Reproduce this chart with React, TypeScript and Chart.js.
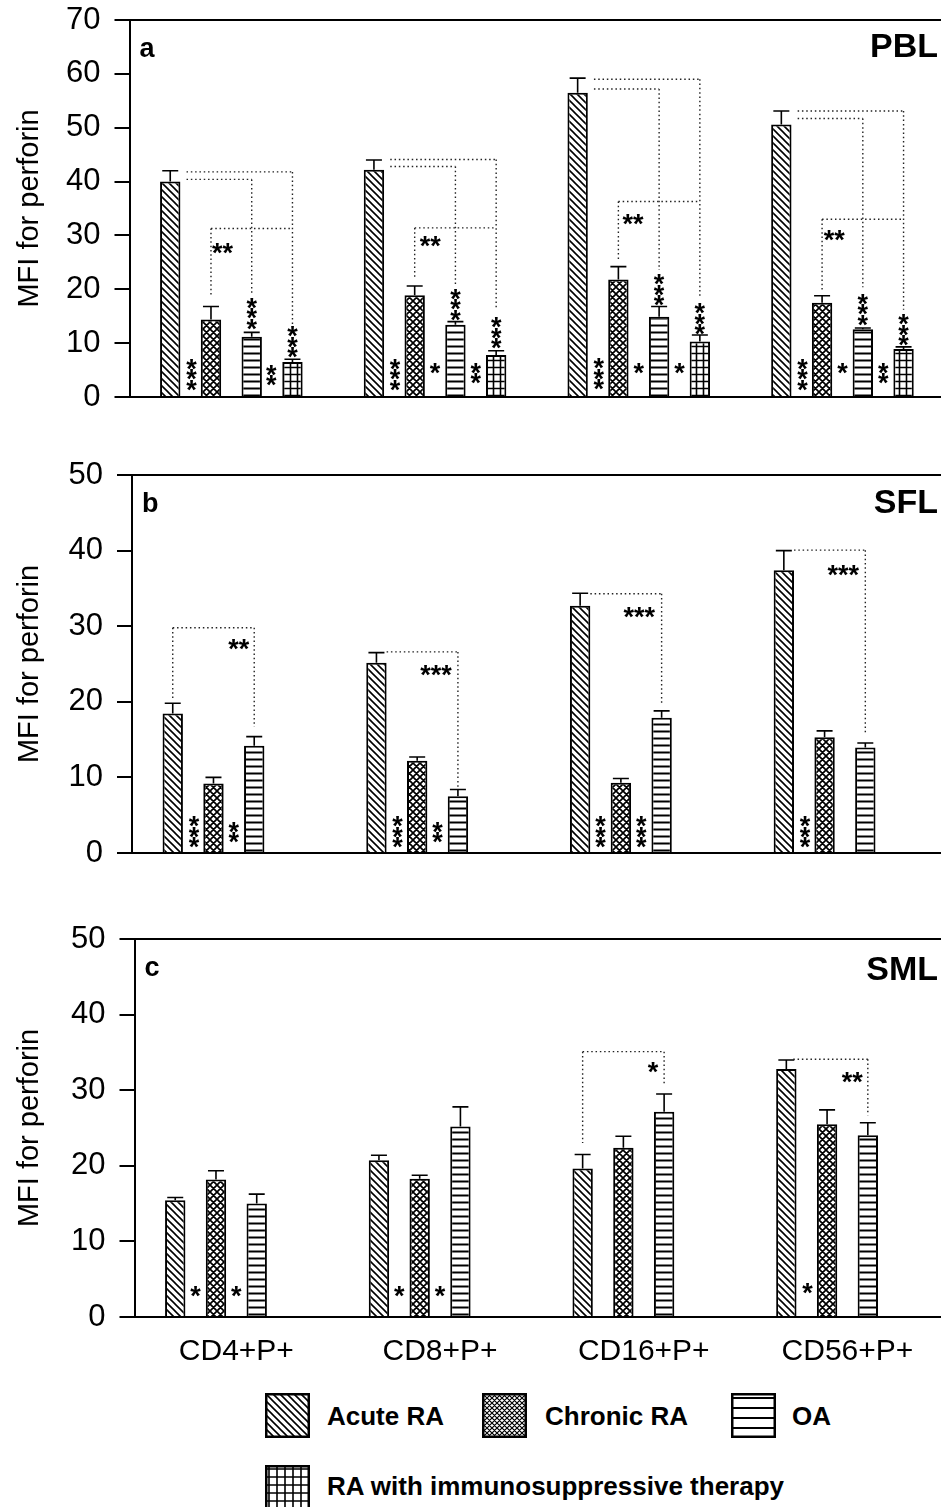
import React, { useEffect, useRef } from 'react';
import { Chart, registerables } from 'chart.js';
Chart.register(...registerables);

const FONT = '"Liberation Sans", Arial, Helvetica, sans-serif';

const categories = ['CD4+P+', 'CD8+P+', 'CD16+P+', 'CD56+P+'];
const seriesNames = ['Acute RA', 'Chronic RA', 'OA', 'RA with immunosuppressive therapy'];
const yTitle = 'MFI for perforin';

// Panel a: PBL (means and SEM)
const pblAcute = [40.0, 42.2, 56.5, 50.6];
const pblAcuteSem = [2.0, 1.8, 2.7, 2.5];
const pblChronic = [14.4, 18.9, 21.8, 17.5];
const pblChronicSem = [2.4, 1.7, 2.4, 1.3];
const pblOA = [11.2, 13.4, 14.9, 12.6];
const pblOASem = [0.8, 0.6, 1.9, 0.2];
const pblImmuno = [6.5, 7.8, 10.3, 8.9];
const pblImmunoSem = [0.5, 0.8, 1.2, 0.4];

// Panel b: SFL
const sflAcute = [18.45, 25.15, 32.7, 37.4];
const sflAcuteSem = [1.35, 1.35, 1.65, 2.6];
const sflChronic = [9.2, 12.2, 9.3, 15.3];
const sflChronicSem = [0.8, 0.5, 0.55, 0.85];
const sflOA = [14.2, 7.5, 17.9, 13.95];
const sflOASem = [1.2, 0.9, 0.9, 0.6];

// Panel c: SML
const smlAcute = [15.45, 20.75, 19.65, 32.8];
const smlAcuteSem = [0.35, 0.65, 1.85, 1.2];
const smlChronic = [18.2, 18.3, 22.4, 25.5];
const smlChronicSem = [1.15, 0.45, 1.5, 1.9];
const smlOA = [15.0, 25.2, 27.15, 24.05];
const smlOASem = [1.25, 2.6, 2.35, 1.65];

const noData = [null, null, null, null];

// significance brackets: [category, level, fromSlot, toSlot, dropFrom, dropTo]
const pblBrackets = [
  [0, 41.8, 0.4, 3, null, 13.5], [0, 40.4, 0.4, 2, null, 19.0], [0, 31.3, 1, 3, 18.6, null],
  [1, 44.1, 0.4, 3, null, 16.2], [1, 42.8, 0.4, 2, null, 20.8], [1, 31.4, 1, 3, 22.1, null],
  [2, 59.0, 0.4, 3, null, 18.4], [2, 57.2, 0.4, 2, null, 23.6], [2, 36.3, 1, 3, 25.4, null],
  [3, 53.1, 0.4, 3, null, 16.2], [3, 51.7, 0.4, 2, null, 20.4], [3, 33.0, 1, 3, 19.9, null],
];
const sflBrackets = [
  [0, 29.8, 0, 2, 20.5, 16.7], [1, 26.6, 0.25, 2, null, 8.55],
  [2, 34.3, 0.25, 2, null, 19.55], [3, 40.06, 0.25, 2, null, 15.85],
];
const smlBrackets = [
  [2, 35.1, 0, 2, 23.0, 30.9], [3, 34.1, 0.17, 2, null, 26.7],
];

// significance stars: [category, slot, level, text, vertical]
const pblStars = [
  [0, 0.52, 4.55, '***', 1], [0, 2.48, 4.36, '**', 1], [0, 2, 15.8, '***', 1], [0, 3, 10.5, '***', 1], [0, 1.28, 28.0, '**', 0],
  [1, 0.52, 4.55, '***', 1], [1, 1.5, 5.6, '*', 1], [1, 2.5, 4.7, '**', 1], [1, 2, 17.5, '***', 1], [1, 3, 12.25, '***', 1], [1, 1.38, 29.3, '**', 0],
  [2, 0.52, 4.6, '***', 1], [2, 1.5, 5.75, '*', 1], [2, 2.5, 5.75, '*', 1], [2, 2, 20.2, '***', 1], [2, 3, 14.85, '***', 1], [2, 1.36, 33.4, '**', 0],
  [3, 0.52, 4.55, '***', 1], [3, 1.5, 5.75, '*', 1], [3, 2.5, 4.7, '**', 1], [3, 2, 16.6, '***', 1], [3, 3, 12.8, '***', 1], [3, 1.3, 30.3, '**', 0],
];
const sflStars = [
  [0, 0.52, 3.0, '***', 1], [0, 1.5, 3.0, '**', 1], [0, 1.62, 27.8, '**', 0],
  [1, 0.52, 3.0, '***', 1], [1, 1.5, 3.0, '**', 1], [1, 1.46, 24.4, '***', 0],
  [2, 0.5, 3.0, '***', 1], [2, 1.5, 3.0, '***', 1], [2, 1.45, 32.1, '***', 0],
  [3, 0.52, 3.0, '***', 1], [3, 1.46, 37.65, '***', 0],
];
const smlStars = [
  [0, 0.5, 3.6, '*', 1], [0, 1.5, 3.6, '*', 1],
  [1, 0.5, 3.6, '*', 1], [1, 1.5, 3.6, '*', 1],
  [2, 1.73, 33.25, '*', 0],
  [3, 0.52, 4.0, '*', 1], [3, 1.62, 31.9, '**', 0],
];

const patternKinds = ['diag', 'cross', 'hline', 'grid'];

function makeTile(kind: string, s: number, lw: number) {
  const c = document.createElement('canvas');
  c.width = s;
  c.height = s;
  const g = c.getContext('2d')!;
  g.fillStyle = '#fff';
  g.fillRect(0, 0, s, s);
  g.strokeStyle = '#000';
  g.lineWidth = lw;
  g.beginPath();
  if (kind === 'diag' || kind === 'cross') {
    for (const k of [-s, 0, s]) {
      g.moveTo(-1, k - 1);
      g.lineTo(s + 1, s + k + 1);
    }
  }
  if (kind === 'cross') {
    for (const k of [0, s, 2 * s]) {
      g.moveTo(-1, k + 1);
      g.lineTo(s + 1, k - s - 1);
    }
  }
  if (kind === 'hline' || kind === 'grid') {
    g.moveTo(0, s / 2);
    g.lineTo(s, s / 2);
  }
  if (kind === 'grid') {
    g.moveTo(s / 2, 0);
    g.lineTo(s / 2, s);
  }
  g.stroke();
  return c;
}

function makePattern(kind: string, s: number, lw: number) {
  const t = makeTile(kind, s, lw);
  return t.getContext('2d')!.createPattern(t, 'repeat');
}

const barTiles: any = { diag: [7, 1.6], cross: [7, 1.7], hline: [7, 2], grid: [7, 1.6] };
const swatchTiles: any = { diag: [7, 1.6], cross: [5, 1.2], hline: [10, 2], grid: [8, 1.6] };

type Panel = {
  letter: string;
  name: string;
  max: number;
  values: any[][];
  sems: any[][];
  brackets: any[][];
  stars: any[][];
  showX: boolean;
  top: number;
  height: number;
  axisWidth: number;
  padRight: number;
  xHeight: number;
  nameDy: number;
};

const panels: Panel[] = [
  {
    letter: 'a', name: 'PBL', max: 70,
    values: [pblAcute, pblChronic, pblOA, pblImmuno],
    sems: [pblAcuteSem, pblChronicSem, pblOASem, pblImmunoSem],
    brackets: pblBrackets, stars: pblStars, showX: false,
    top: 0, height: 421, axisWidth: 129.5, padRight: 5.7, xHeight: 24, nameDy: 37,
  },
  {
    letter: 'b', name: 'SFL', max: 50,
    values: [sflAcute, sflChronic, sflOA, noData],
    sems: [sflAcuteSem, sflChronicSem, sflOASem, noData],
    brackets: sflBrackets, stars: sflStars, showX: false,
    top: 455, height: 422, axisWidth: 132, padRight: 3.2, xHeight: 24, nameDy: 38,
  },
  {
    letter: 'c', name: 'SML', max: 50,
    values: [smlAcute, smlChronic, smlOA, noData],
    sems: [smlAcuteSem, smlChronicSem, smlOASem, noData],
    brackets: smlBrackets, stars: smlStars, showX: true,
    top: 919, height: 458, axisWidth: 134.5, padRight: 0.7, xHeight: 60, nameDy: 41,
  },
];

function makePlugin(p: Panel) {
  return {
    id: 'annot_' + p.letter,
    afterDatasetsDraw(chart: any) {
      const ctx = chart.ctx;
      const ca = chart.chartArea;
      const y = chart.scales.y;
      const m0 = chart.getDatasetMeta(0);
      const m1 = chart.getDatasetMeta(1);
      const slotX = (c: number, s: number) => m0.data[c].x + s * (m1.data[c].x - m0.data[c].x);
      ctx.save();
      // error bars (upper)
      ctx.strokeStyle = '#000';
      ctx.lineWidth = 1.6;
      p.values.forEach((vals, i) => {
        const meta = chart.getDatasetMeta(i);
        vals.forEach((v: any, j: number) => {
          const s = p.sems[i][j];
          if (v == null || s == null) return;
          const el = meta.data[j];
          const yt = y.getPixelForValue(v + s);
          ctx.beginPath();
          ctx.moveTo(el.x, el.y);
          ctx.lineTo(el.x, yt);
          ctx.moveTo(el.x - 8, yt);
          ctx.lineTo(el.x + 8, yt);
          ctx.stroke();
        });
      });
      // top frame line
      ctx.lineWidth = 2;
      ctx.beginPath();
      ctx.moveTo(ca.left, ca.top);
      ctx.lineTo(ca.right, ca.top);
      ctx.stroke();
      // dotted brackets
      ctx.setLineDash([1.5, 2.8]);
      ctx.lineWidth = 1.4;
      ctx.strokeStyle = '#222';
      for (const [c, lvl, s1, s2, d1, d2] of p.brackets) {
        const x1 = slotX(c, s1);
        const x2 = slotX(c, s2);
        const yl = y.getPixelForValue(lvl);
        ctx.beginPath();
        ctx.moveTo(x1, yl);
        ctx.lineTo(x2, yl);
        if (d1 != null) {
          ctx.moveTo(x1, yl);
          ctx.lineTo(x1, y.getPixelForValue(d1));
        }
        if (d2 != null) {
          ctx.moveTo(x2, yl);
          ctx.lineTo(x2, y.getPixelForValue(d2));
        }
        ctx.stroke();
      }
      ctx.setLineDash([]);
      // stars
      const ss = 27;
      ctx.fillStyle = '#000';
      ctx.font = 'bold ' + ss + 'px ' + FONT;
      ctx.textAlign = 'center';
      ctx.textBaseline = 'alphabetic';
      for (const [c, s, lvl, txt, vert] of p.stars) {
        const x = slotX(c, s);
        const yc = y.getPixelForValue(lvl);
        if (vert) {
          const n = txt.length;
          for (let k = 0; k < n; k++) {
            const cy = yc + (k - (n - 1) / 2) * 10.5;
            ctx.fillText('*', x, cy + 0.575 * ss);
          }
        } else {
          ctx.fillText(txt, x, yc + 0.575 * ss);
        }
      }
      // panel letter and tissue name
      ctx.textAlign = 'left';
      ctx.font = 'bold 27px ' + FONT;
      ctx.fillText(p.letter, ca.left + 10, ca.top + 37);
      ctx.textAlign = 'right';
      ctx.font = 'bold 34px ' + FONT;
      ctx.fillText(p.name, 938, ca.top + p.nameDy);
      ctx.restore();
    },
  };
}

function PanelChart({ p }: { p: Panel }) {
  const ref = useRef<HTMLCanvasElement>(null);
  useEffect(() => {
    const canvas = ref.current!;
    const datasets = p.values.map((vals, i) => {
      const [s, lw] = barTiles[patternKinds[i]];
      return {
        label: seriesNames[i],
        data: vals,
        backgroundColor: makePattern(patternKinds[i], s, lw),
        borderColor: '#000',
        borderWidth: 2,
        categoryPercentage: 0.8,
        barPercentage: 0.5,
      };
    });
    const chart = new Chart(canvas, {
      type: 'bar',
      data: { labels: categories, datasets: datasets as any },
      plugins: [makePlugin(p)],
      options: {
        animation: false,
        responsive: false,
        devicePixelRatio: 1,
        layout: { padding: { top: 20, right: p.padRight, left: 0, bottom: 0 } },
        plugins: { legend: { display: false }, tooltip: { enabled: false } },
        scales: {
          x: {
            type: 'category',
            offset: true,
            grid: { display: false, drawTicks: false },
            border: { display: true, color: '#000', width: 2 },
            ticks: {
              display: p.showX,
              color: '#000',
              font: { family: FONT, size: 30 },
              padding: 17,
              maxRotation: 0,
              autoSkip: false,
            },
            afterFit: (s: any) => {
              s.height = p.xHeight;
              s.paddingLeft = 0;
              s.paddingRight = 0;
            },
          },
          y: {
            min: 0,
            max: p.max,
            ticks: { stepSize: 10, color: '#000', font: { family: FONT, size: 31 }, padding: 14 },
            grid: { display: true, drawOnChartArea: false, drawTicks: true, tickLength: 15, color: '#000', lineWidth: 2 },
            border: { display: true, color: '#000', width: 2 },
            title: {
              display: true,
              text: yTitle,
              color: '#000',
              font: { family: FONT, size: 29 },
              padding: { top: 13, bottom: 0 },
            },
            afterFit: (s: any) => {
              s.width = p.axisWidth;
              s.paddingTop = 0;
              s.paddingBottom = 0;
            },
          },
        },
      } as any,
    });
    return () => chart.destroy();
  }, [p]);
  return (
    <canvas
      ref={ref}
      width={950}
      height={p.height}
      style={{ position: 'absolute', left: 0, top: p.top, width: 950, height: p.height }}
    />
  );
}

function Swatch({ kind, x, y }: { kind: string; x: number; y: number }) {
  const ref = useRef<HTMLCanvasElement>(null);
  useEffect(() => {
    const c = ref.current!;
    const g = c.getContext('2d')!;
    const [s, lw] = swatchTiles[kind];
    g.clearRect(0, 0, 45, 45);
    g.fillStyle = makePattern(kind, s, lw) as any;
    g.fillRect(0, 0, 45, 45);
    g.strokeStyle = '#000';
    g.lineWidth = 2.5;
    g.strokeRect(1.25, 1.25, 42.5, 42.5);
  }, [kind]);
  return <canvas ref={ref} width={45} height={45} style={{ position: 'absolute', left: x, top: y, width: 45, height: 45 }} />;
}

const legendItems = [
  { sx: 265, sy: 1393, tx: 327, ty: 1425 },
  { sx: 482, sy: 1393, tx: 545, ty: 1425 },
  { sx: 731, sy: 1393, tx: 792, ty: 1425 },
  { sx: 265, sy: 1465, tx: 327, ty: 1495 },
];

export default function App() {
  return (
    <div
      style={{
        position: 'absolute',
        left: 0,
        top: 0,
        width: 941,
        height: 1507,
        overflow: 'hidden',
        background: '#fff',
      }}
    >
      {panels.map((p) => (
        <PanelChart key={p.letter} p={p} />
      ))}
      {legendItems.map((it, i) => (
        <React.Fragment key={i}>
          <Swatch kind={patternKinds[i]} x={it.sx} y={it.sy} />
          <span
            style={{
              position: 'absolute',
              left: it.tx,
              top: it.ty - 22,
              font: 'bold 26px ' + FONT,
              lineHeight: '26px',
              whiteSpace: 'nowrap',
              color: '#000',
            }}
          >
            {seriesNames[i]}
          </span>
        </React.Fragment>
      ))}
    </div>
  );
}
